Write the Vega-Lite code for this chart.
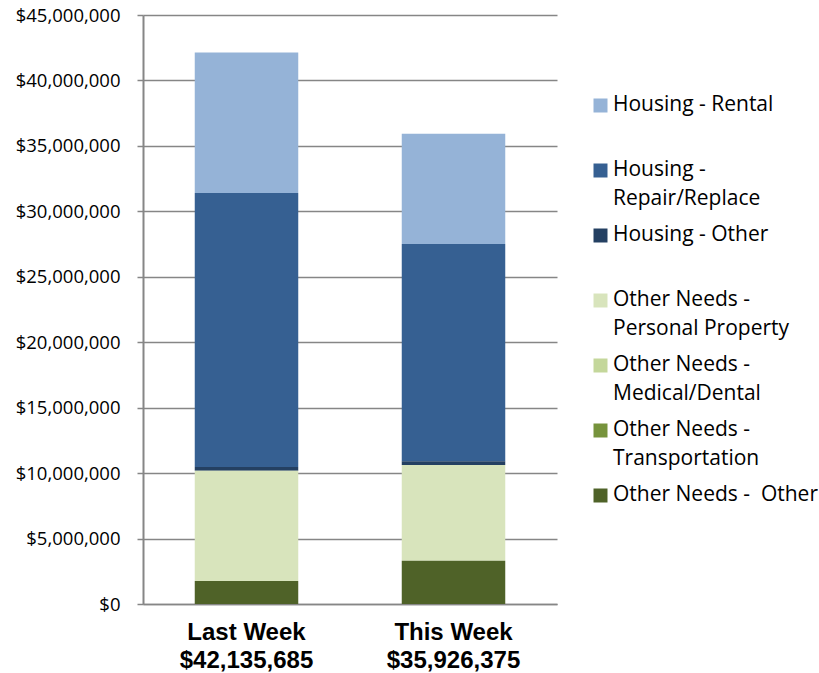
{
  "$schema": "https://vega.github.io/schema/vega-lite/v6.json",
  "width": 414,
  "height": 589,
  "padding": {"left": 15, "top": 6, "right": 0, "bottom": 0},
  "background": "white",
  "config": {"view": {"stroke": null}},
  "data": {
    "values": [
      {"week": "Last Week", "type": "Housing - Rental", "amount": 10735685, "seq": 7},
      {"week": "Last Week", "type": "Housing - Repair/Replace", "amount": 20940000, "seq": 6},
      {"week": "Last Week", "type": "Housing - Other", "amount": 280000, "seq": 5},
      {"week": "Last Week", "type": "Other Needs - Personal Property", "amount": 8420000, "seq": 4},
      {"week": "Last Week", "type": "Other Needs - Medical/Dental", "amount": 0, "seq": 3},
      {"week": "Last Week", "type": "Other Needs - Transportation", "amount": 0, "seq": 2},
      {"week": "Last Week", "type": "Other Needs -  Other", "amount": 1760000, "seq": 1},
      {"week": "This Week", "type": "Housing - Rental", "amount": 8426375, "seq": 7},
      {"week": "This Week", "type": "Housing - Repair/Replace", "amount": 16600000, "seq": 6},
      {"week": "This Week", "type": "Housing - Other", "amount": 280000, "seq": 5},
      {"week": "This Week", "type": "Other Needs - Personal Property", "amount": 7310000, "seq": 4},
      {"week": "This Week", "type": "Other Needs - Medical/Dental", "amount": 0, "seq": 3},
      {"week": "This Week", "type": "Other Needs - Transportation", "amount": 0, "seq": 2},
      {"week": "This Week", "type": "Other Needs -  Other", "amount": 3310000, "seq": 1}
    ]
  },
  "mark": {"type": "bar"},
  "encoding": {
    "x": {
      "field": "week",
      "type": "nominal",
      "sort": ["Last Week", "This Week"],
      "scale": {"paddingInner": 0.5, "paddingOuter": 0.25},
      "axis": {
        "title": null,
        "labelAngle": 0,
        "ticks": false,
        "domain": true,
        "domainColor": "#868686",
        "domainWidth": 1.5,
        "labelFont": "Liberation Sans",
        "labelFontWeight": "bold",
        "labelFontSize": 24,
        "labelColor": "#000000",
        "labelPadding": 16,
        "labelBaseline": "top",
        "labelLineHeight": 28,
        "labelExpr": "datum.value == 'Last Week' ? ['Last Week', '$42,135,685'] : ['This Week', '$35,926,375']"
      }
    },
    "y": {
      "field": "amount",
      "type": "quantitative",
      "stack": "zero",
      "scale": {"domain": [0, 45000000], "nice": false},
      "axis": {
        "title": null,
        "values": [0, 5000000, 10000000, 15000000, 20000000, 25000000, 30000000, 35000000, 40000000, 45000000],
        "format": "$,.0f",
        "labelFont": "Open Sans",
        "labelFontSize": 18.5,
        "labelColor": "#000000",
        "labelPadding": 17,
        "tickSize": 6,
        "tickColor": "#868686",
        "tickWidth": 1.5,
        "domainColor": "#868686",
        "domainWidth": 2,
        "grid": true,
        "gridColor": "#868686",
        "gridWidth": 1.5
      }
    },
    "color": {
      "field": "type",
      "type": "nominal",
      "scale": {
        "domain": ["Housing - Rental", "Housing - Repair/Replace", "Housing - Other", "Other Needs - Personal Property", "Other Needs - Medical/Dental", "Other Needs - Transportation", "Other Needs -  Other"],
        "range": ["#95B3D7", "#366092", "#244062", "#D8E4BC", "#C4D79B", "#76933C", "#4F6228"]
      },
      "legend": {
        "title": null,
        "orient": "none",
        "legendX": 447,
        "legendY": 80,
        "symbolType": "square",
        "symbolSize": 196,
        "symbolStrokeWidth": 0,
        "labelFont": "Open Sans",
        "labelFontSize": 21,
        "labelColor": "#000000",
        "labelOffset": 2,
        "labelLimit": 300,
        "labelBaseline": "top",
        "rowPadding": 14,
        "labelExpr": "datum.value == 'Housing - Rental' ? ['Housing - Rental', ''] : datum.value == 'Housing - Repair/Replace' ? ['Housing -', 'Repair/Replace'] : datum.value == 'Housing - Other' ? ['Housing - Other', ''] : datum.value == 'Other Needs - Personal Property' ? ['Other Needs -', 'Personal Property'] : datum.value == 'Other Needs - Medical/Dental' ? ['Other Needs -', 'Medical/Dental'] : datum.value == 'Other Needs - Transportation' ? ['Other Needs -', 'Transportation'] : ['Other Needs - \u00a0Other', '']",
        "encode": {
          "labels": {"update": {"lineHeight": {"value": 29}, "dy": {"value": -12}}}
        }
      }
    },
    "order": {"field": "seq", "type": "quantitative", "sort": "ascending"}
  }
}
